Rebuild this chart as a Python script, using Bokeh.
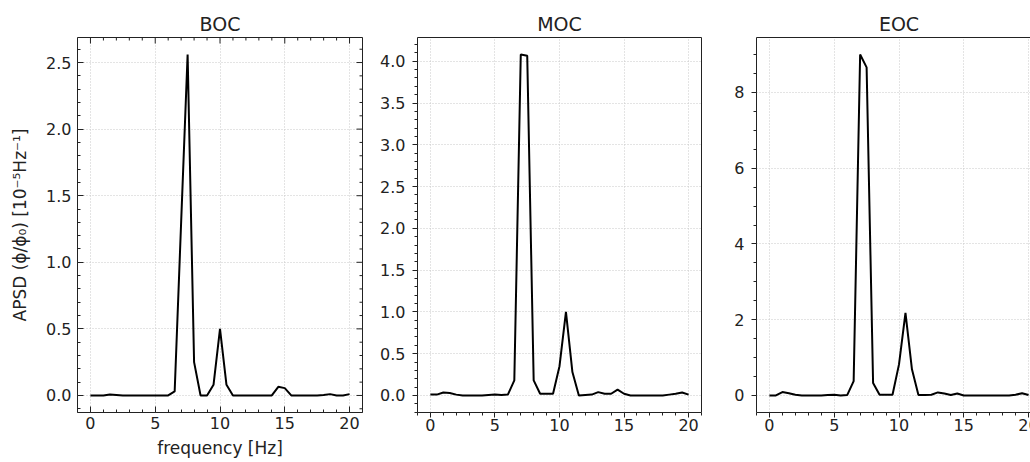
import math
from bokeh.plotting import figure
from bokeh.layouts import row
from bokeh.models import (Range1d, LinearAxis, SingleIntervalTicker, PrintfTickFormatter,
                          ColumnDataSource, Grid, GlobalInlineStyleSheet)
from bokeh.embed import file_html
from bokeh.resources import INLINE

# ---------------- data ----------------
freq = [0.0, 0.5, 1.0, 1.5, 2.0, 2.5, 3.0, 3.5, 4.0, 4.5,
        5.0, 5.5, 6.0, 6.5, 7.0, 7.5, 8.0, 8.5, 9.0, 9.5,
        10.0, 10.5, 11.0, 11.5, 12.0, 12.5, 13.0, 13.5, 14.0, 14.5,
        15.0, 15.5, 16.0, 16.5, 17.0, 17.5, 18.0, 18.5, 19.0, 19.5, 20.0]

boc = [0.0, 0.0, 0.0, 0.008, 0.004, 0.0, 0.0, 0.0, 0.0, 0.0,
       0.0, 0.0, 0.0, 0.03, 1.30, 2.56, 0.25, 0.0, 0.0, 0.08,
       0.50, 0.08, 0.0, 0.0, 0.0, 0.0, 0.0, 0.0, 0.0, 0.065,
       0.055, 0.0, 0.0, 0.0, 0.0, 0.0, 0.003, 0.01, 0.0, 0.0, 0.01]

moc = [0.01, 0.01, 0.035, 0.03, 0.01, 0.0, 0.0, 0.0, 0.0, 0.005,
       0.01, 0.005, 0.01, 0.18, 4.08, 4.065, 0.18, 0.02, 0.02, 0.02,
       0.35, 1.00, 0.28, 0.0, 0.005, 0.01, 0.04, 0.02, 0.02, 0.07,
       0.02, 0.0, 0.0, 0.0, 0.0, 0.0, 0.0, 0.01, 0.02, 0.035, 0.01]

eoc = [0.0, 0.0, 0.09, 0.06, 0.02, 0.0, 0.0, 0.0, 0.0, 0.01,
       0.02, 0.0, 0.01, 0.38, 9.00, 8.66, 0.33, 0.02, 0.02, 0.02,
       0.82, 2.18, 0.69, 0.01, 0.01, 0.02, 0.08, 0.05, 0.01, 0.05,
       0.0, 0.0, 0.0, 0.0, 0.0, 0.0, 0.0, 0.0, 0.02, 0.06, 0.01]

titles = ["BOC", "MOC", "EOC"]
x_label = "frequency [Hz]"
y_label = "APSD (\u03d5/\u03d5\u2080) [10\u207b\u2075Hz\u207b\u00b9]"

FONT = "DejaVu Sans"
DARK = "#222222"
H = 462


def tick_positions(lo, hi, interval, n_minor):
    """Major and minor tick values of a ticker inside [lo, hi]."""
    step = interval / n_minor
    k0 = math.ceil(lo / step - 1e-9)
    k1 = math.floor(hi / step + 1e-9)
    major, minor = [], []
    for k in range(k0, k1 + 1):
        v = round(k * step, 10)
        (major if k % n_minor == 0 else minor).append(v)
    return major, minor


def style_axis(ax, inward, standoff=6):
    ax.axis_line_color = None
    ax.major_tick_line_color = DARK
    ax.minor_tick_line_color = DARK
    ax.major_tick_line_width = 1
    ax.minor_tick_line_width = 1
    if inward:
        ax.major_tick_in, ax.major_tick_out = 6, 0
        ax.minor_tick_in, ax.minor_tick_out = 3, 0
    else:
        ax.major_tick_in, ax.major_tick_out = 0, 5
        ax.minor_tick_in, ax.minor_tick_out = 0, 3
    ax.major_label_text_font = FONT
    ax.major_label_text_color = DARK
    ax.major_label_text_font_size = "16px"
    ax.major_label_standoff = standoff


def make_fig(title, y, width, left, right, y_int, y_minor, y_fmt, inward, xlabel=None, ylabel=None):
    ymin, ymax = min(y), max(y)
    pad = 0.05 * (ymax - ymin)
    x0, x1 = -1, 21
    y0, y1 = ymin - pad, ymax + pad
    p = figure(width=width, height=H, output_backend="svg", toolbar_location=None,
               x_range=Range1d(x0, x1), y_range=Range1d(y0, y1),
               x_axis_type=None, y_axis_type=None,
               min_border_left=left, min_border_right=right,
               min_border_top=37, min_border_bottom=50, title=title)
    p.background_fill_color = "white"
    p.border_fill_color = "white"
    p.outline_line_color = DARK
    p.outline_line_width = 1
    p.title.text_font = FONT
    p.title.text_font_size = "19px"
    p.title.text_font_style = "normal"
    p.title.text_color = DARK
    p.title.align = "center"
    p.title.standoff = 6

    xt = SingleIntervalTicker(interval=5, num_minor_ticks=5)
    yt = SingleIntervalTicker(interval=y_int, num_minor_ticks=y_minor)

    xa = LinearAxis(ticker=xt)
    style_axis(xa, inward, standoff=4 if inward else 1)
    if xlabel:
        xa.axis_label = xlabel
        xa.axis_label_text_font = FONT
        xa.axis_label_text_font_size = "17px"
        xa.axis_label_text_font_style = "normal"
        xa.axis_label_text_color = DARK
        xa.axis_label_standoff = 6
    p.add_layout(xa, "below")

    ya = LinearAxis(ticker=yt, formatter=PrintfTickFormatter(format=y_fmt))
    style_axis(ya, inward, standoff=6 if inward else 7)
    if ylabel:
        ya.axis_label = ylabel
        ya.axis_label_text_font = FONT
        ya.axis_label_text_font_size = "17px"
        ya.axis_label_text_font_style = "normal"
        ya.axis_label_text_color = DARK
        ya.axis_label_standoff = 13
    p.add_layout(ya, "left")

    for dim, tk in ((0, xt), (1, yt)):
        g = Grid(dimension=dim, ticker=tk)
        g.grid_line_color = "#c8c8c8"
        g.grid_line_dash = "1 2"
        g.grid_line_width = 1
        p.add_layout(g)

    if inward:
        # inward ticks on the top and right edges of the frame
        xmaj, xmin_ = tick_positions(x0, x1, 5, 5)
        ymaj, ymin_ = tick_positions(y0, y1, y_int, y_minor)
        for xs, ln in ((xmaj, 6), (xmin_, 3)):
            p.ray(x=xs, y=[y1] * len(xs), length=ln, length_units="screen",
                  angle=-math.pi / 2, line_color=DARK, line_width=1)
        for ys, ln in ((ymaj, 6), (ymin_, 3)):
            p.ray(x=[x1] * len(ys), y=ys, length=ln, length_units="screen",
                  angle=math.pi, line_color=DARK, line_width=1)

    src = ColumnDataSource(dict(x=freq, y=y))
    p.line("x", "y", source=src, line_color="black", line_width=2)
    return p


p1 = make_fig(titles[0], boc, 367, 77, 5, 0.5, 5, "%.1f", True, xlabel=x_label, ylabel=y_label)
p2 = make_fig(titles[1], moc, 339, 50, 5, 0.5, 5, "%.1f", False)
p3 = make_fig(titles[2], eoc, 345, 50, 10, 2, 4, "%d", False)

layout = row(p1, p2, p3,
             stylesheets=[GlobalInlineStyleSheet(css="html, body { overflow: hidden; }")])

open("out.html", "w").write(file_html(layout, INLINE))
